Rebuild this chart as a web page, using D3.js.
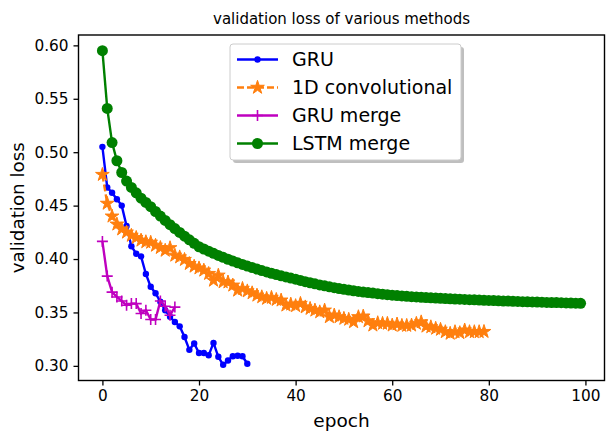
<!DOCTYPE html>
<html>
<head>
<meta charset="utf-8">
<script src="https://cdn.jsdelivr.net/npm/d3@7"></script>
<style>
  body { margin: 0; background: #fff; }
  svg { display: block; font-family: "DejaVu Sans", sans-serif; }
</style>
</head>
<body>
<svg id="chart" width="610" height="431"></svg>
<script>
// values, one per epoch starting at 0
var gruLoss = [0.505, 0.467, 0.462, 0.456, 0.450, 0.431, 0.412, 0.405, 0.4025, 0.386,
  0.374, 0.368, 0.360, 0.352, 0.346, 0.341, 0.337, 0.327, 0.315, 0.321,
  0.312, 0.312, 0.310, 0.3215, 0.3085, 0.301, 0.305, 0.309, 0.3095, 0.309, 0.302];

var convLoss = [0.479, 0.452, 0.440, 0.4325, 0.428, 0.425, 0.422, 0.420, 0.4175, 0.416,
  0.4155, 0.4127, 0.4106, 0.408, 0.4104, 0.4034, 0.4018, 0.3994, 0.3956, 0.3931,
  0.3915, 0.3894, 0.3863, 0.380, 0.3847, 0.3785, 0.3783, 0.3754, 0.3707, 0.3723,
  0.370, 0.3682, 0.366, 0.3645, 0.363, 0.3639, 0.362, 0.3614, 0.3567, 0.3576,
  0.3562, 0.3583, 0.355, 0.3536, 0.352, 0.3504, 0.352, 0.3458, 0.3474, 0.3458,
  0.3443, 0.3434, 0.3411, 0.3458, 0.3464, 0.342, 0.338, 0.3402, 0.3396, 0.3396,
  0.338, 0.339, 0.3377, 0.3377, 0.338, 0.3396, 0.341, 0.337, 0.3364, 0.335,
  0.334, 0.3318, 0.3303, 0.3318, 0.3309, 0.3334, 0.3318, 0.3318, 0.3318, 0.332];

var gruMergeLoss = [0.4165, 0.384, 0.369, 0.3645, 0.3607, 0.3567, 0.3583, 0.3583, 0.349, 0.352,
  0.3434, 0.3434, 0.3607, 0.3558, 0.3474, 0.355];

var lstmMergeLoss = [0.595, 0.541, 0.509, 0.492, 0.481, 0.473, 0.467, 0.462, 0.457, 0.453,
  0.449, 0.4445, 0.4402, 0.4361, 0.4322, 0.4285, 0.4249, 0.4214, 0.418, 0.4147,
  0.4115, 0.4094, 0.4073, 0.4053, 0.4034, 0.4016, 0.3998, 0.3981, 0.3965, 0.3949,
  0.3934, 0.392, 0.3906, 0.3892, 0.3879, 0.3867, 0.3855, 0.3843, 0.3832, 0.3822,
  0.3811, 0.380, 0.3788, 0.3778, 0.3768, 0.3758, 0.3749, 0.374, 0.3732, 0.3724,
  0.3717, 0.371, 0.3703, 0.3697, 0.3691, 0.3686, 0.3681, 0.3676, 0.3671, 0.3666,
  0.3662, 0.3658, 0.3655, 0.3651, 0.3648, 0.3645, 0.3642, 0.364, 0.3637, 0.3635,
  0.3632, 0.363, 0.3628, 0.3626, 0.3624, 0.3622, 0.362, 0.3618, 0.3616, 0.3614,
  0.3612, 0.3611, 0.3609, 0.3607, 0.3606, 0.3604, 0.3603, 0.3601, 0.360, 0.3598,
  0.3597, 0.3596, 0.3594, 0.3593, 0.3592, 0.3591, 0.3589, 0.3588, 0.3587, 0.3585];

var xTicks = [0, 20, 40, 60, 80, 100];
var yTicks = [0.30, 0.35, 0.40, 0.45, 0.50, 0.55, 0.60];

var seriesNames = ["GRU", "1D convolutional", "GRU merge", "LSTM merge"];

(function drawChart() {
  var svg = d3.select("#chart");
  var left = 78.5, right = 604.5, top = 35, bottom = 380.5;

  var x = d3.scaleLinear().domain([-4.95, 103.95]).range([left, right]);
  var y = d3.scaleLinear().domain([0.2863, 0.6097]).range([bottom, top]);

  var series = [
    { name: seriesNames[0], values: gruLoss, color: "#0000ff", marker: "dot", dash: null },
    { name: seriesNames[1], values: convLoss, color: "#ff7f0e", marker: "star", dash: "7,3" },
    { name: seriesNames[2], values: gruMergeLoss, color: "#bf00bf", marker: "plus", dash: null },
    { name: seriesNames[3], values: lstmMergeLoss, color: "#008000", marker: "circle", dash: null }
  ];

  var line = d3.line()
    .x(function(d, i) { return x(i); })
    .y(function(d) { return y(d); });

  var starPath = d3.symbol().type(d3.symbolStar).size(58)();

  function drawMarker(g, m, color) {
    if (m === "dot") {
      g.append("circle").attr("r", 3.2).attr("fill", color);
    } else if (m === "circle") {
      g.append("circle").attr("r", 5.5).attr("fill", color);
    } else if (m === "star") {
      g.append("path").attr("d", starPath).attr("fill", color)
        .attr("stroke", color).attr("stroke-width", 1);
    } else if (m === "plus") {
      g.append("path").attr("d", "M-5.5,0H5.5M0,-5.5V5.5")
        .attr("stroke", color).attr("stroke-width", 1.6).attr("fill", "none");
    }
  }

  var plot = svg.append("g");
  plot.append("clipPath").attr("id", "clip")
    .append("rect").attr("x", left).attr("y", top)
    .attr("width", right - left).attr("height", bottom - top);

  var inner = plot.append("g").attr("clip-path", "url(#clip)");

  series.forEach(function(s) {
    var g = inner.append("g");
    g.append("path")
      .datum(s.values)
      .attr("d", line)
      .attr("fill", "none")
      .attr("stroke", s.color)
      .attr("stroke-width", 2.4)
      .attr("stroke-dasharray", s.dash);
    s.values.forEach(function(v, i) {
      var mg = g.append("g").attr("transform", "translate(" + x(i) + "," + y(v) + ")");
      drawMarker(mg, s.marker, s.color);
    });
  });

  // axes
  var xAxis = d3.axisBottom(x).tickValues(xTicks).tickSize(5).tickPadding(5)
    .tickFormat(d3.format("d"));
  var yAxis = d3.axisLeft(y).tickValues(yTicks).tickSize(5).tickPadding(5)
    .tickFormat(d3.format(".2f"));

  var gx = svg.append("g").attr("transform", "translate(0," + bottom + ")").call(xAxis);
  var gy = svg.append("g").attr("transform", "translate(" + left + ",0)").call(yAxis);
  [gx, gy].forEach(function(g) {
    g.select(".domain").remove();
    g.selectAll(".tick line").attr("stroke", "#000").attr("stroke-width", 1.3);
    g.selectAll(".tick text").attr("font-size", 15.3).attr("fill", "#000")
      .attr("font-family", "DejaVu Sans");
  });

  svg.append("rect")
    .attr("x", left).attr("y", top)
    .attr("width", right - left).attr("height", bottom - top)
    .attr("fill", "none").attr("stroke", "#000").attr("stroke-width", 1.4);

  // labels
  svg.append("text").attr("x", (left + right) / 2).attr("y", 24)
    .attr("text-anchor", "middle").attr("font-size", 15).text("validation loss of various methods");
  svg.append("text").attr("x", (left + right) / 2).attr("y", 427)
    .attr("text-anchor", "middle").attr("font-size", 18.5).text("epoch");
  svg.append("text")
    .attr("transform", "translate(24," + ((top + bottom) / 2) + ") rotate(-90)")
    .attr("text-anchor", "middle").attr("font-size", 18.3).text("validation loss");

  // legend with shadow
  var lx = 230, ly = 44, lw = 231, lh = 116;
  var legend = svg.append("g");
  legend.append("rect").attr("x", lx + 3).attr("y", ly + 3).attr("width", lw).attr("height", lh)
    .attr("rx", 3).attr("fill", "#808080").attr("opacity", 0.5);
  legend.append("rect").attr("x", lx).attr("y", ly).attr("width", lw).attr("height", lh)
    .attr("rx", 3).attr("fill", "#fff").attr("stroke", "#cccccc").attr("stroke-width", 1);

  series.forEach(function(s, i) {
    var cy = 59.5 + i * 28;
    var row = legend.append("g");
    row.append("line").attr("x1", 237).attr("x2", 278).attr("y1", cy).attr("y2", cy)
      .attr("stroke", s.color).attr("stroke-width", 2.4).attr("stroke-dasharray", s.dash);
    var mg = row.append("g").attr("transform", "translate(257.5," + cy + ")");
    drawMarker(mg, s.marker, s.color);
    row.append("text").attr("x", 292).attr("y", cy).attr("dy", "0.36em")
      .attr("font-size", 19).text(s.name);
  });
})();
</script>
</body>
</html>
